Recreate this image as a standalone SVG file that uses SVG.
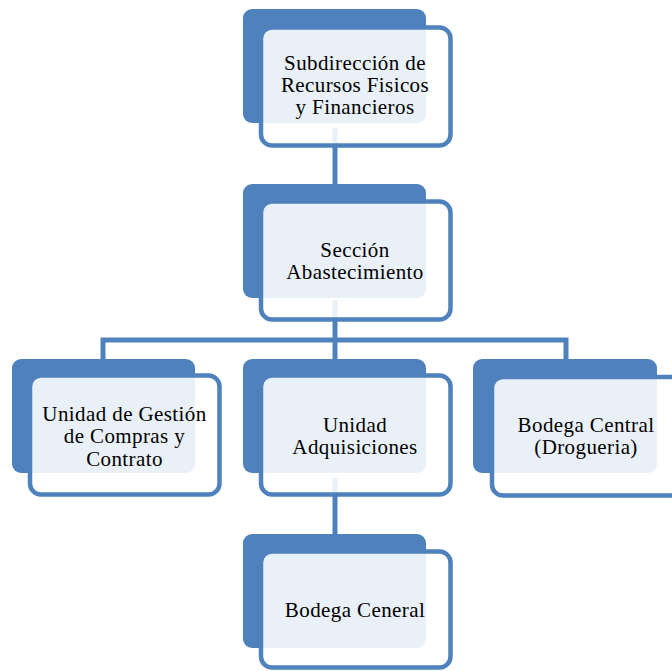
<svg xmlns="http://www.w3.org/2000/svg" width="672" height="671" viewBox="0 0 672 671">
<style>
.back{fill:#4F81BD;}
.front{fill:#FFFFFF;fill-opacity:0.88;stroke:#4F81BD;stroke-width:4.5;}
.conn{stroke:#4F81BD;stroke-width:5;fill:none;}
text{font-family:"Liberation Serif","Times New Roman",serif;font-size:21px;fill:#000;text-anchor:middle;letter-spacing:0.4px;}
</style>
<rect width="672" height="671" fill="#FFFFFF"/>
<g id="connectors">
<line class="conn" x1="335" y1="128" x2="335" y2="186"/>
<line class="conn" x1="335" y1="300" x2="335" y2="340"/>
<polyline class="conn" points="103,361 103,340 566,340 566,361"/>
<line class="conn" x1="335" y1="340" x2="335" y2="361"/>
<line class="conn" x1="335" y1="478" x2="335" y2="536"/>
</g>
<g id="node-subdireccion">
<rect class="back" x="243" y="9" width="183" height="114" rx="9"/>
<rect class="front" x="261" y="27.5" width="189.5" height="118" rx="11"/>
<text x="355" y="70">Subdirección de</text>
<text x="355" y="92">Recursos Fisicos</text>
<text x="355" y="114">y Financieros</text>
</g>
<g id="node-seccion">
<rect class="back" x="243" y="184" width="183" height="114" rx="9"/>
<rect class="front" x="261" y="201.5" width="189.5" height="118" rx="11"/>
<text x="355" y="257">Sección</text>
<text x="355" y="279">Abastecimiento</text>
</g>
<g id="node-unidad-gestion">
<rect class="back" x="12" y="359" width="183" height="114" rx="9"/>
<rect class="front" x="30" y="375.5" width="189.5" height="119" rx="11"/>
<text x="124.5" y="421">Unidad de Gestión</text>
<text x="124.5" y="443">de Compras y</text>
<text x="124.5" y="466">Contrato</text>
</g>
<g id="node-unidad-adquisiciones">
<rect class="back" x="243" y="359" width="183" height="114" rx="9"/>
<rect class="front" x="261" y="375.5" width="189.5" height="119" rx="11"/>
<text x="355" y="432">Unidad</text>
<text x="355" y="454">Adquisiciones</text>
</g>
<g id="node-bodega-central">
<rect class="back" x="473" y="359" width="184" height="114" rx="9"/>
<rect class="front" x="492" y="377" width="189.5" height="118.5" rx="11"/>
<text x="586" y="432">Bodega Central</text>
<text x="586" y="454">(Drogueria)</text>
</g>
<g id="node-bodega-ceneral">
<rect class="back" x="243" y="534" width="183" height="114" rx="9"/>
<rect class="front" x="261" y="551.5" width="189.5" height="116" rx="11"/>
<text x="355" y="617">Bodega Ceneral</text>
</g>
</svg>
